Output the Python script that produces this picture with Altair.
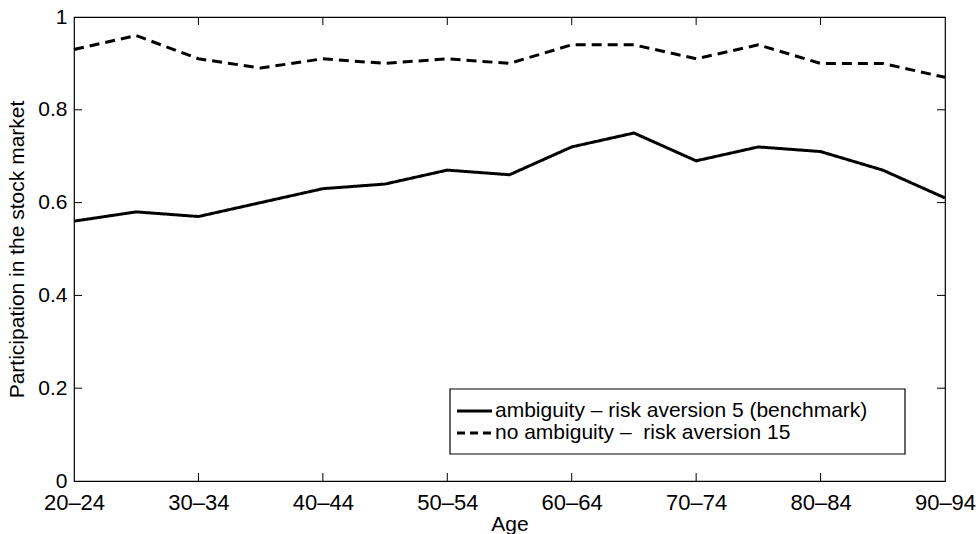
import altair as alt
import pandas as pd

# Age groups on the horizontal axis
ages = ["20–24", "25–29", "30–34", "35–39", "40–44", "45–49", "50–54", "55–59",
        "60–64", "65–69", "70–74", "75–79", "80–84", "85–89", "90–94"]

series_names = ["ambiguity – risk aversion 5 (benchmark)",
                "no ambiguity – \u00a0risk aversion 15"]

# Stock market participation rates by age group
benchmark = [0.56, 0.58, 0.57, 0.60, 0.63, 0.64, 0.67, 0.66,
             0.72, 0.75, 0.69, 0.72, 0.71, 0.67, 0.61]
no_ambiguity = [0.93, 0.96, 0.91, 0.89, 0.91, 0.90, 0.91, 0.90,
                0.94, 0.94, 0.91, 0.94, 0.90, 0.90, 0.87]

label_ages = ages[::2]
inner_x_ticks = ages[2:13:2]
inner_y_ticks = [0.2, 0.4, 0.6, 0.8]

W, H = 871, 464
FONT = "Liberation Sans"
DASHES = [[1, 0], [10, 6]]

df = pd.DataFrame({
    "age": ages * 2,
    "series": [series_names[0]] * len(ages) + [series_names[1]] * len(ages),
    "value": benchmark + no_ambiguity,
})
xt = pd.DataFrame({"age": inner_x_ticks})
yt = pd.DataFrame({"v": inner_y_ticks})

x_scale = alt.Scale(type="point", domain=ages, padding=0)
y_scale = alt.Scale(domain=[0, 1], nice=False, zero=True)

lines = alt.Chart(df).mark_line(strokeWidth=3, color="black").encode(
    x=alt.X("age:O", scale=x_scale, sort=ages,
            axis=alt.Axis(values=label_ages, labelAngle=0, ticks=False, domain=False,
                          labelFontSize=22, labelPadding=11, labelColor="black",
                          title="Age", titleFontSize=21, titleFontWeight="normal",
                          titlePadding=0, titleColor="black",
                          labelFont=FONT, titleFont=FONT)),
    y=alt.Y("value:Q", scale=y_scale,
            axis=alt.Axis(values=[0, 0.2, 0.4, 0.6, 0.8, 1], format="~g",
                          ticks=False, domain=False, grid=False,
                          labelFontSize=21, labelPadding=7, labelColor="black",
                          title="Participation in the stock market",
                          titleFontSize=21, titleFontWeight="normal",
                          titlePadding=10, titleColor="black",
                          labelFont=FONT, titleFont=FONT)),
    strokeDash=alt.StrokeDash("series:N",
                              scale=alt.Scale(domain=series_names, range=DASHES),
                              legend=None),
)

# Inward-pointing tick marks on all four sides of the box
tick_len = 8
x_bottom = alt.Chart(xt).mark_rule(color="black", strokeWidth=1).encode(
    x=alt.X("age:O", scale=x_scale, sort=ages),
    y=alt.value(H), y2=alt.value(H - tick_len))
x_top = alt.Chart(xt).mark_rule(color="black", strokeWidth=1).encode(
    x=alt.X("age:O", scale=x_scale, sort=ages),
    y=alt.value(0), y2=alt.value(tick_len))
y_left = alt.Chart(yt).mark_rule(color="black", strokeWidth=1).encode(
    y=alt.Y("v:Q", scale=y_scale),
    x=alt.value(0), x2=alt.value(tick_len))
y_right = alt.Chart(yt).mark_rule(color="black", strokeWidth=1).encode(
    y=alt.Y("v:Q", scale=y_scale),
    x=alt.value(W), x2=alt.value(W - tick_len))

# Boxed legend in the lower right of the plot
box_l, box_r, box_t, box_b = 376, 831, 372, 437
row_y = [394, 416]
sym_l, sym_r, text_x = 383, 418, 421

one = pd.DataFrame({"k": [0]})
legend_box = alt.Chart(one).mark_rect(fill="white", stroke="black", strokeWidth=1.2).encode(
    x=alt.value(box_l), x2=alt.value(box_r), y=alt.value(box_t), y2=alt.value(box_b))

legend_layers = [legend_box]
for i, name in enumerate(series_names):
    row = pd.DataFrame({"series": [name]})
    dash = [1, 0] if i == 0 else [8, 5]
    legend_layers.append(
        alt.Chart(row).mark_rule(color="black", strokeWidth=3, strokeDash=dash).encode(
            x=alt.value(sym_l), x2=alt.value(sym_r), y=alt.value(row_y[i])))
    legend_layers.append(
        alt.Chart(row).mark_text(align="left", baseline="middle", font=FONT,
                                 fontSize=21, color="black").encode(
            x=alt.value(text_x), y=alt.value(row_y[i]), text="series:N"))

chart = alt.layer(lines, x_bottom, x_top, y_left, y_right, *legend_layers).properties(
    width=W, height=H,
    padding={"left": 74, "top": 17, "right": 35, "bottom": 53},
    autosize=alt.AutoSizeParams(type="none"),
    background="white",
).configure_view(stroke="black", strokeWidth=1.2).configure_axis(grid=False)

chart.save("out.html", embed_options={"renderer": "svg", "actions": False})
